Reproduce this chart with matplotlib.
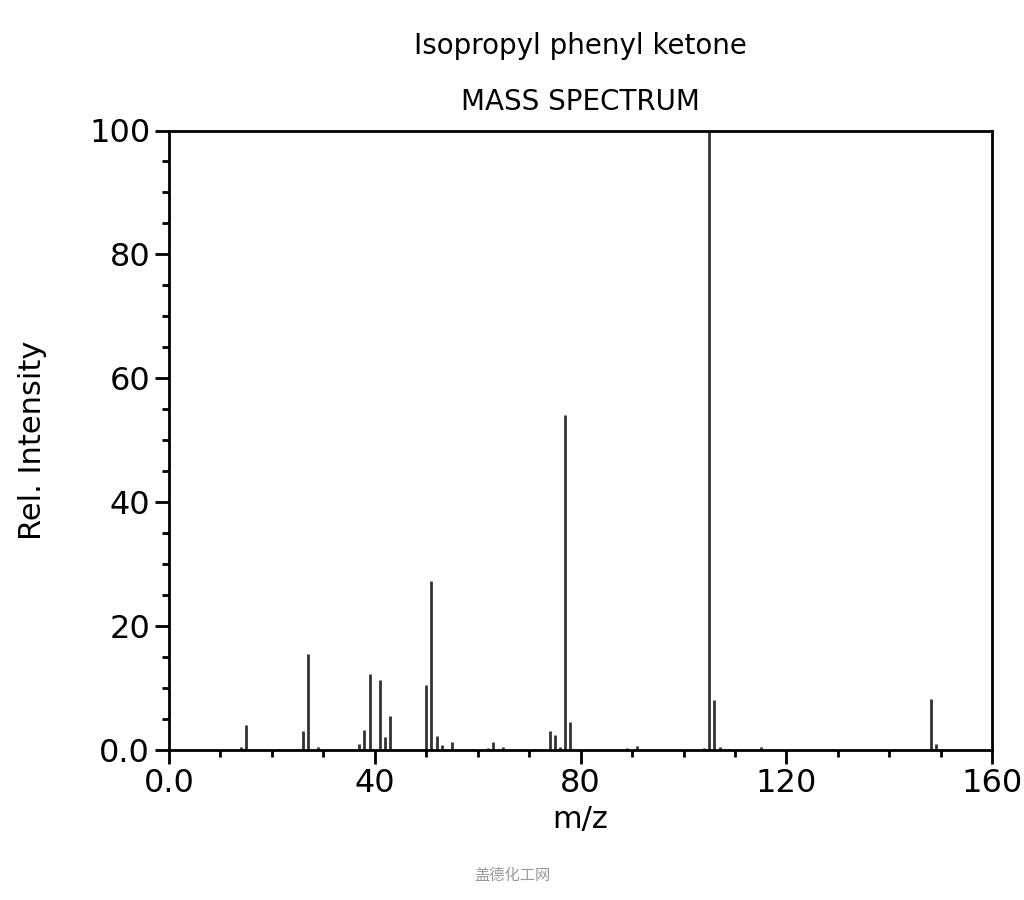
import matplotlib.pyplot as plt
from matplotlib.ticker import MultipleLocator, FixedFormatter, FixedLocator

# m/z peaks and relative intensities
mz = [14, 15, 26, 27, 29, 37, 38, 39, 41, 42, 43, 50, 51, 52, 53, 55,
      62, 63, 65, 74, 75, 76, 77, 78, 89, 91, 104, 105, 106, 107, 115, 148, 149]
intensity = [0.5, 4.0, 3.0, 15.5, 0.5, 1.0, 3.2, 12.2, 11.2, 2.0, 5.5, 10.5, 27.3, 2.2, 0.7, 1.3,
             0.3, 1.2, 0.4, 3.0, 2.3, 0.5, 54.0, 4.5, 0.3, 0.6, 0.3, 100.0, 8.0, 0.4, 0.5, 8.2, 1.0]

x_ticks = [0, 40, 80, 120, 160]
x_labels = ["0.0", "40", "80", "120", "160"]
y_ticks = [0, 20, 40, 60, 80, 100]
y_labels = ["0.0", "20", "40", "60", "80", "100"]

fig = plt.figure(figsize=(10.24, 9.0), dpi=100)
ax = fig.add_axes([0.165, 0.167, 0.804, 0.688])
ax.vlines(mz, 0, intensity, color="#333333", linewidth=2)

ax.set_xlim(0, 160)
ax.set_ylim(0, 100)
ax.xaxis.set_major_locator(FixedLocator(x_ticks))
ax.xaxis.set_major_formatter(FixedFormatter(x_labels))
ax.yaxis.set_major_locator(FixedLocator(y_ticks))
ax.yaxis.set_major_formatter(FixedFormatter(y_labels))
ax.xaxis.set_minor_locator(MultipleLocator(10))
ax.yaxis.set_minor_locator(MultipleLocator(5))
ax.tick_params(which="major", direction="out", length=10, width=2, labelsize=23)
ax.tick_params(which="minor", direction="out", length=5, width=2)
for s in ax.spines.values():
    s.set_linewidth(2)

ax.set_xlabel("m/z", fontsize=22, labelpad=4)
ax.set_ylabel("Rel. Intensity", fontsize=22, labelpad=30)
fig.text(0.567, 0.94, "Isopropyl phenyl ketone", ha="center", fontsize=20)
fig.text(0.567, 0.878, "MASS SPECTRUM", ha="center", fontsize=20)
fig.text(0.5, 0.022, "盖德化工网", ha="center", fontsize=11, color="#999999",
         family=["Noto Sans CJK SC", "DejaVu Sans"])

fig.savefig("out.png", dpi=100)
